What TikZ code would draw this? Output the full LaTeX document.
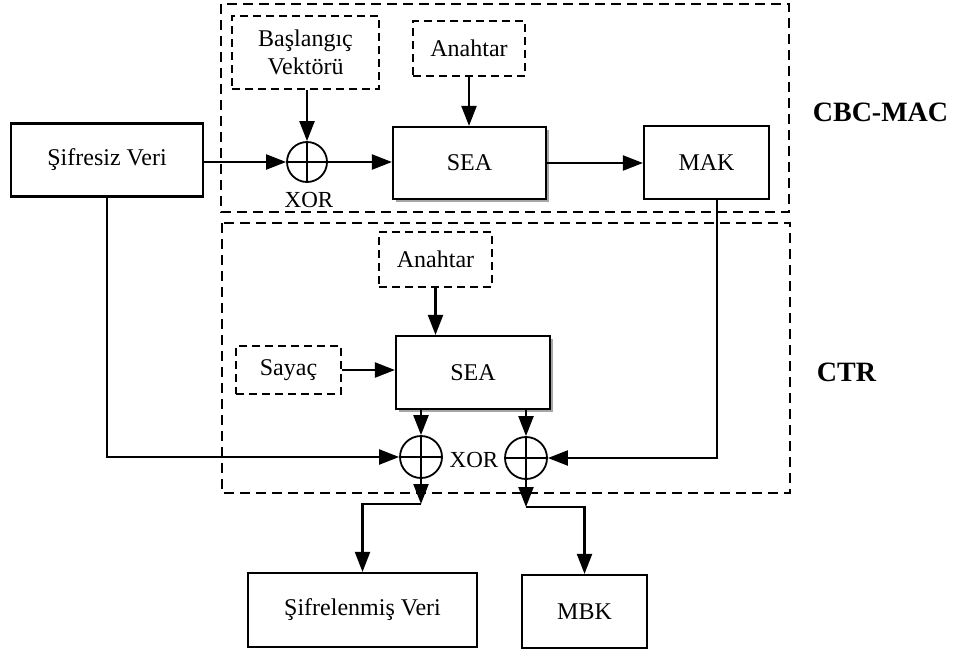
\documentclass[tikz,border=0pt]{standalone}
\usepackage{fontspec}
\setmainfont{Liberation Serif}
\usetikzlibrary{arrows.meta,shadows,calc}
\begin{document}
\begin{tikzpicture}[x=1pt,y=-1pt,
  txt/.style={font=\fontsize{24}{28}\selectfont},
  box/.style={draw,line width=2.2pt,rectangle,inner sep=0pt,txt,align=center},
  dbox/.style={draw,line width=1.8pt,dash pattern=on 8pt off 5pt,rectangle,inner sep=0pt,txt,align=center},
  shbox/.style={box,fill=white,drop shadow={shadow xshift=2.5pt,shadow yshift=-2.5pt,fill=black!35,opacity=1}},
  frame/.style={draw,line width=2.2pt,dash pattern=on 10pt off 6pt},
  xorc/.style={draw,circle,line width=1.8pt,inner sep=0pt,minimum size=#1},
  arr/.style={line width=2.2pt,-{Triangle[length=20pt,width=15pt]}},
  ln/.style={line width=1.8pt},
  lbl/.style={font=\fontsize{28}{32}\selectfont\bfseries}
]
\useasboundingbox (0,0) rectangle (957,654);
% frames
\draw[frame] (221,4) rectangle (789,212);
\draw[frame] (222,223) rectangle (790,493);
% CBC-MAC part
\node[box,minimum width=192pt,minimum height=73pt] (sifresiz) at (107,160) {Şifresiz Veri};
\node[dbox,minimum width=147pt,minimum height=73pt] (bv) at (305.5,52.5) {Başlangıç\\Vektörü};
\node[dbox,minimum width=112pt,minimum height=55pt] (anah1) at (469,48.5) {Anahtar};
\node[shbox,minimum width=153pt,minimum height=72pt] (sea1) at (469.5,163) {SEA};
\node[box,minimum width=125pt,minimum height=73pt] (mak) at (706.5,162.5) {MAK};
\node[xorc=40pt] (xor1) at (307,162) {};
\draw[ln] (xor1.north) -- (xor1.south) (xor1.west) -- (xor1.east);
\node[txt,font=\fontsize{23}{27}\selectfont] (xorlbl1) at (309,200) {XOR};
% CTR part
\node[dbox,minimum width=113pt,minimum height=55pt] (anah2) at (435.5,259.5) {Anahtar};
\node[shbox,minimum width=154pt,minimum height=73pt] (sea2) at (473,372.5) {SEA};
\node[dbox,minimum width=105pt,minimum height=48pt] (sayac) at (288.5,370) {Sayaç};
\node[xorc=42pt] (xorL) at (421,457) {};
\node[xorc=42pt] (xorR) at (526,458) {};
\draw[ln] (xorL.north) -- (xorL.south) (xorL.west) -- (xorL.east);
\draw[ln] (xorR.north) -- (xorR.south) (xorR.west) -- (xorR.east);
\node[txt,font=\fontsize{23}{27}\selectfont] (xorlbl2) at (474,460) {XOR};
% outputs
\node[box,minimum width=229pt,minimum height=74pt] (sv) at (362.5,610) {Şifrelenmiş Veri};
\node[box,minimum width=125pt,minimum height=73pt] (mbk) at (584.5,611.5) {MBK};
% labels
\node[lbl] (cbclbl) at (880.5,112) {CBC-MAC};
\node[lbl] (ctrlbl) at (846.5,372) {CTR};
% connectors
\draw[arr] (bv.south -| xor1.north) -- (xor1.north);
\draw[arr] (sifresiz.east |- xor1.west) -- (xor1.west);
\draw[arr] (xor1.east) -- (sea1.west |- xor1.east);
\draw[arr] (anah1.south) -- (anah1.south |- sea1.north);
\draw[arr] (sea1.east) -- (mak.west |- sea1.east);
\draw[arr] (anah2.south) -- (anah2.south |- sea2.north);
\draw[arr] (sayac.east) -- (sea2.west |- sayac.east);
\draw[arr] (sea2.south -| xorL.north) -- (xorL.north);
\draw[arr] (sea2.south -| xorR.north) -- (xorR.north);
\draw[arr] (sifresiz.south) |- (xorL.west);
\draw[arr] ([xshift=10.5pt]mak.south) |- (xorR.east);
\coordinate (jL) at (421,504);
\coordinate (jR) at (526,507);
\draw[arr] (xorL.south) -- (jL);
\draw[arr] (jL) -| (sv.north);
\draw[arr] (xorR.south) -- (jR);
\draw[arr] (jR) -| (mbk.north);
\end{tikzpicture}
\end{document}
